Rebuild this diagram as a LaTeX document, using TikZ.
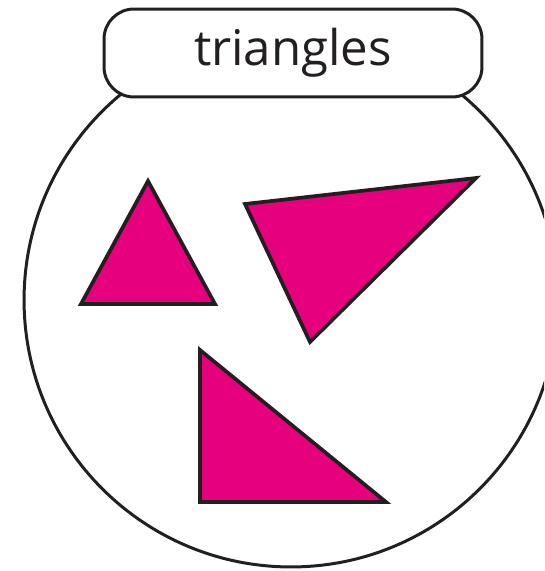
\documentclass[tikz,border=0pt]{standalone}
\usepackage{fontspec}
\newfontfamily\labelfont{Open Sans}
\usetikzlibrary{positioning}
\definecolor{shapecolor}{RGB}{230,0,126}
\definecolor{bordercolor}{RGB}{35,31,32}
\tikzset{
    bowl/.style={
        circle,
        draw=bordercolor,
        line width=1.7pt,
        fill=white,
        minimum size=10.68cm,
        inner sep=0pt
    },
    tag/.style={
        rectangle,
        rounded corners=0.6cm,
        minimum width=7.56cm,
        minimum height=1.76cm,
        draw=bordercolor,
        line width=1.7pt,
        fill=white,
        text=bordercolor,
        font=\labelfont\fontsize{28}{30}\selectfont
    },
    tri/.style={
        draw=bordercolor,
        fill=shapecolor,
        line width=2.1pt,
        line join=miter
    }
}
\begin{document}
\begin{tikzpicture}[x=0.02cm,y=-0.02cm]
    \clip (0,0) rectangle (544,571);
    \fill[white] (0,0) rectangle (544,571);

    % Bowl
    \node[bowl] (bowl) at (291,300) {};

    % Label
    \node[tag] (label) at (293,53) {triangles};

    % Triangles
    \draw[tri] (148,181) -- (215,304) -- (81,304) -- cycle;
    \draw[tri] (245,204) -- (476,178) -- (310,342) -- cycle;
    \draw[tri] (200,350) -- (386,502) -- (200,502) -- cycle;
\end{tikzpicture}
\end{document}
